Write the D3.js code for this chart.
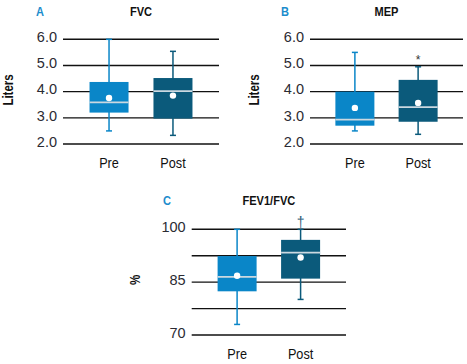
<!DOCTYPE html>
<html><head><meta charset="utf-8">
<script src="https://cdn.jsdelivr.net/npm/d3@7"></script>
<style>body{margin:0;background:#fff}</style>
</head><body>
<svg id="c" width="467" height="364"></svg>
<script>
const groups = ["Pre", "Post"];
// [min, q1, median, q3, max, mean]
const fvcStats = [[2.50, 3.20, 3.59, 4.37, 6.00, 3.76], [2.33, 2.97, 4.02, 4.52, 5.54, 3.85]];
const mepStats = [[2.50, 2.70, 2.93, 4.00, 5.50, 3.38], [2.37, 2.85, 3.41, 4.45, 4.95, 3.57]];
const ratioStats = [[73.0, 82.4, 86.5, 92.4, 100, 86.8], [80.1, 86.0, 93.4, 97.0, 100, 92.0]];
const literTicks = [2, 3, 4, 5, 6];
const pctTicks = [70, 77.5, 85, 92.5, 100];
const pctLabeled = [70, 85, 100];
const marks = [null, "*"];
const marksC = [null, "\u2020"];

const colors = ["#0a86c8", "#0b5a7b"];
const regular = "'Liberation Sans',Arial,sans-serif";
const NX = 0.82; // horizontal compression to emulate a condensed face
const svg = d3.select("#c");

function ntext(g, x, y, rot, txt, size, bold, fill, anchor) {
  return g.append("text")
    .attr("transform", `translate(${x},${y})` + (rot ? ` rotate(${rot})` : "") + ` scale(${NX},1)`)
    .attr("text-anchor", anchor || "middle")
    .attr("font-family", regular).attr("font-size", size)
    .attr("font-weight", bold ? "bold" : "normal").attr("fill", fill).text(txt);
}

function panel(o) {
  const g = svg.append("g");
  const y = d3.scaleLinear().domain(o.domain).range([o.y1, o.y0]);
  const x = d3.scalePoint().domain(groups).range([o.x0, o.x1]).padding(o.pad);
  g.selectAll("line.grid").data(o.ticks).join("line")
    .attr("x1", o.x0).attr("x2", o.x1)
    .attr("y1", d => y(d)).attr("y2", d => y(d))
    .attr("stroke", "#111").attr("stroke-width", 1.4);
  g.selectAll("text.tick").data(o.labeled).join("text")
    .attr("x", o.x0 - 6).attr("y", d => y(d) + 2.8)
    .attr("text-anchor", "end")
    .attr("font-family", regular).attr("font-size", 14.5).attr("fill", "#2b2b33")
    .text(d => o.fmt(d));
  ntext(g, o.ytx, o.yty, -90, o.ytitle, 14, true, "#111").attr("dominant-baseline", "central");
  ntext(g, o.lx, o.ty, 0, o.letter, 13.5, true, "#1b8ccc", "start");
  ntext(g, (o.x0 + o.x1) / 2, o.ty, 0, o.title, 13.5, true, "#111");
  const bw = 39;
  groups.forEach((gr, i) => {
    const s = o.stats[i], cx = x(gr), c = colors[i];
    g.append("line").attr("x1", cx).attr("x2", cx).attr("y1", y(s[0])).attr("y2", y(s[4]))
      .attr("stroke", c).attr("stroke-width", 1.5);
    [s[0], s[4]].forEach(v => g.append("line").attr("x1", cx - 3).attr("x2", cx + 3)
      .attr("y1", y(v)).attr("y2", y(v)).attr("stroke", c).attr("stroke-width", 1.5));
    g.append("rect").attr("x", cx - bw / 2).attr("width", bw)
      .attr("y", y(s[3])).attr("height", y(s[1]) - y(s[3])).attr("fill", c);
    g.append("line").attr("x1", cx - bw / 2).attr("x2", cx + bw / 2)
      .attr("y1", y(s[2])).attr("y2", y(s[2])).attr("stroke", "#cbd8e0").attr("stroke-width", 1.8);
    g.append("circle").attr("cx", cx).attr("cy", y(s[5])).attr("r", 3.2).attr("fill", "#fff");
    ntext(g, cx, o.xly, 0, gr, 15.5, false, "#111");
    if (o.marks[i]) {
      g.append("text").attr("x", cx).attr("y", y(s[4]) - o.markOff).attr("text-anchor", "middle")
        .attr("font-family", regular).attr("font-size", o.markSize).attr("fill", o.markColor).text(o.marks[i]);
    }
  });
}

panel({stats: fvcStats, domain: [2, 6], ticks: literTicks, labeled: literTicks, fmt: d3.format(".1f"),
  x0: 63, x1: 219, y0: 39.3, y1: 144, pad: 0.72, ytitle: "Liters", ytx: 8.5, yty: 90,
  letter: "A", lx: 36, title: "FVC", ty: 15.5, xly: 168.3, marks: [null, null]});
panel({stats: mepStats, domain: [2, 6], ticks: literTicks, labeled: literTicks, fmt: d3.format(".1f"),
  x0: 310, x1: 463, y0: 39.3, y1: 144, pad: 0.71, ytitle: "Liters", ytx: 254, yty: 90,
  letter: "B", lx: 281, title: "MEP", ty: 15.5, xly: 168.3, marks: marks, markOff: 3, markSize: 12, markColor: "#333"});
panel({stats: ratioStats, domain: [70, 100], ticks: pctTicks, labeled: pctLabeled, fmt: d3.format("d"),
  x0: 191.7, x1: 346, y0: 229.3, y1: 335, pad: 0.715, ytitle: "%", ytx: 135, yty: 280,
  letter: "C", lx: 163, title: "FEV1/FVC", ty: 205, xly: 359, marks: marksC, markOff: 2.5, markSize: 14, markColor: "#2f5e7a"});
</script>
</body></html>
